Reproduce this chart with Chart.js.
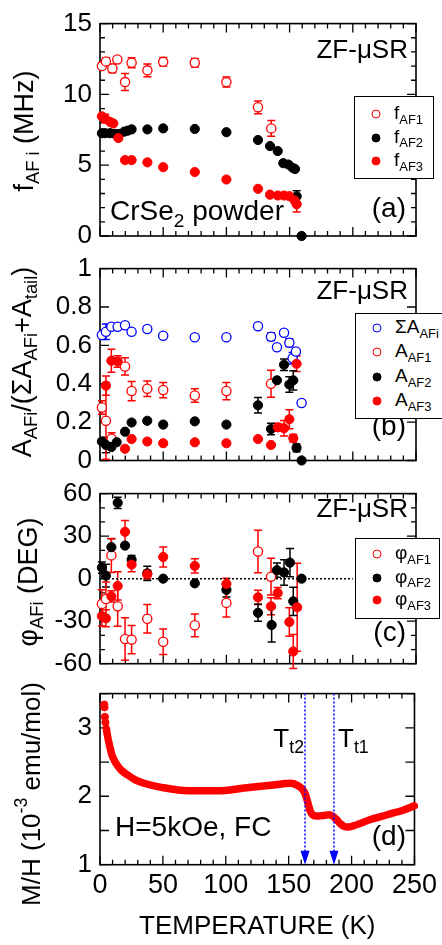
<!DOCTYPE html>
<html><head><meta charset="utf-8">
<script src="https://cdn.jsdelivr.net/npm/chart.js@4.4.1/dist/chart.umd.min.js"></script>
<style>
html,body{margin:0;padding:0;background:#fff;}
body{width:442px;height:945px;overflow:hidden;position:relative;font-family:"Liberation Sans",Arial,Helvetica,sans-serif;color:#000;}
canvas{position:absolute;left:0;}
.t{position:absolute;white-space:nowrap;line-height:0;}
.s{font-size:0.68em;position:relative;top:0.33em;}
.p{font-size:0.68em;position:relative;top:-0.75em;}
.yt{position:absolute;white-space:nowrap;line-height:1;transform:translate(-50%,-50%) rotate(-90deg);}
.lg{position:absolute;border:1.5px solid #000;background:#fff;box-sizing:border-box;}
.mk{position:absolute;width:9px;height:9px;border-radius:50%;box-sizing:border-box;transform:translate(-50%,-50%);}
</style></head><body>
<canvas id="ca" width="442" height="260" style="top:0px"></canvas>
<canvas id="cb" width="442" height="240" style="top:245px"></canvas>
<canvas id="cc" width="442" height="220" style="top:470px"></canvas>
<canvas id="cd" width="442" height="275" style="top:670px"></canvas>
<script>
// ================= DATA =================
const xTicks = [0, 50, 100, 150, 200, 250];
const yTicksA = [0, 5, 10, 15];
const yTicksB = [0, 0.2, 0.4, 0.6, 0.8, 1];
const yTicksC = [-60, -30, 0, 30, 60];
const yTicksD = [1, 2, 3];

// (a) muon precession frequencies (MHz)
const tF1 = [1.5, 4.7, 9.8, 13.7, 19.8, 25, 37.5, 50, 75, 100, 125, 135.5];
const fAF1 = [12.0, 12.33, 11.83, 12.47, 10.87, 12.24, 11.7, 12.3, 12.24, 10.87, 9.09, 7.6];
const fAF1Err = [0, 0.25, 0.3, 0, 0.6, 0.35, 0.45, 0.3, 0.3, 0.35, 0.45, 0.55];
const tF2 = [1.5, 4, 7.9, 11.9, 15, 19.2, 21.9, 25, 37.5, 50, 75, 100, 125, 134.5, 140.6, 145, 149, 152.4, 154.3, 155.6, 159.5];
const fAF2 = [7.26, 7.26, 7.26, 7.21, 7.21, 7.37, 7.44, 7.53, 7.53, 7.6, 7.56, 7.33, 6.78, 6.35, 6.0, 5.14, 5.05, 4.82, 4.73, 2.8, 0];
const fAF2Err = [0, 0, 0, 0, 0, 0, 0, 0, 0, 0, 0, 0, 0, 0, 0, 0, 0, 0, 0, 0.4, 0];
const tF3 = [1.5, 4, 7.9, 10.5, 14.5, 19.8, 25, 37.5, 50, 75, 100, 125, 134.5, 140.6, 145.6, 149.8, 154, 155.6];
const fAF3 = [8.45, 8.29, 8.06, 7.95, 6.92, 5.36, 5.36, 5.2, 4.86, 4.52, 3.99, 3.33, 2.92, 2.86, 2.86, 2.81, 2.5, 2.24];
const fAF3Err = [0, 0.3, 0, 0, 0.15, 0, 0, 0, 0, 0, 0, 0, 0, 0, 0, 0, 0, 0.55];

// (b) normalized asymmetries
const tSum = [1.5, 4.7, 9, 14, 19.8, 25, 37.4, 50, 75, 100, 125, 135.3, 140, 145.6, 149.8, 152.4, 155, 159.5];
const aSum = [0.654, 0.671, 0.697, 0.697, 0.705, 0.671, 0.685, 0.65, 0.642, 0.642, 0.70, 0.645, 0.59, 0.666, 0.614, 0.533, 0.568, 0.30];
const aSumErr = [0, 0.04, 0, 0, 0, 0, 0, 0, 0, 0, 0, 0.02, 0, 0.015, 0.02, 0.03, 0, 0];
const tA1 = [1.5, 4.7, 9.2, 19.8, 25, 37.4, 50, 75, 100, 135.3];
const aAF1 = [0.276, 0.207, 0.114, 0.49, 0.362, 0.374, 0.367, 0.339, 0.362, 0.40];
const aAF1Err = [0.035, 0.2, 0.03, 0.045, 0.05, 0.04, 0.04, 0.035, 0.045, 0.07];
const tA2 = [1.5, 4.7, 9, 13.2, 19.8, 25, 37.4, 50, 75, 100, 125, 135.3, 140, 145.6, 149.8, 152.9, 155.5, 159.5];
const aAF2 = [0.099, 0.081, 0.07, 0.095, 0.15, 0.198, 0.207, 0.187, 0.204, 0.187, 0.288, 0.164, 0.418, 0.499, 0.396, 0.418, 0.066, 0];
const aAF2Err = [0, 0.04, 0, 0, 0, 0, 0, 0, 0, 0, 0.04, 0.03, 0, 0.03, 0.04, 0.05, 0.02, 0];
const tA3 = [4.7, 9, 14, 19.8, 25, 37.4, 50, 75, 100, 125, 135.3, 140.6, 145.6, 149.8, 152.9, 155.5];
const aAF3 = [0.39, 0.52, 0.516, 0.061, 0.112, 0.099, 0.09, 0.095, 0.09, 0.112, 0.081, 0.173, 0.168, 0.215, 0.116, 0.504];
const aAF3Err = [0.05, 0.06, 0.03, 0, 0, 0, 0, 0, 0, 0, 0, 0.02, 0.04, 0.05, 0.02, 0.04];

// (c) phases (deg)
const tP1 = [1.5, 4.7, 9, 14, 19.8, 25, 37.4, 50, 75, 100, 125, 135.3];
const phAF1 = [-17.8, -14.4, 16.4, -19.5, -42.6, -43, -28.3, -44.5, -32.9, -17.1, 19.2, 1.4];
const phAF1Err = [10, 12, 12, 14, 15, 10, 10, 9, 8, 10, 15, 13];
const tP2 = [1.5, 4.7, 9, 14, 19.8, 25, 37.4, 50, 75, 100, 125, 135.8, 140, 145.6, 150.3, 152.9, 159.5];
const phAF2 = [7.8, 2.1, 22.2, 53.5, 23.3, 13.4, 3.7, 0, -3.3, -7.9, -24.1, -32.7, 6, 4.4, 11.3, -16, 0];
const phAF2Err = [4, 8, 6, 4, 0, 3, 5, 0, 0, 5, 6, 12, 5, 9, 10, 10, 0];
const tP3 = [1.5, 4.7, 9, 14, 19.8, 25, 37.4, 50, 75, 100, 125, 135.3, 140.6, 149.8, 152.9, 156];
const phAF3 = [-26.4, -28, -12.5, -5.1, 33, 9.9, 3, 15.3, 9, -3.7, -13.2, -19.5, -10.2, -30.6, -51.4, -20.2];
const phAF3Err = [7, 6, 4, 10, 8, 5, 3, 7, 5, 4, 5, 6, 4, 10, 12, 31];
const zeroLineT = [0, 200];
const zeroLineV = [0, 0];

// (d) magnetic susceptibility M/H (1e-3 emu/mol)
const mhDotT = [3.4, 3.6, 3.9, 4.3];
const mhDot = [3.34, 3.30, 3.16, 3.08];
const mhT = [5, 5.8, 6.9, 8, 9.5, 11.5, 13.5, 17, 22, 28, 35, 48.8, 70, 93.6, 114.7, 135.8, 151.6, 157, 160, 163, 165, 167, 169, 172, 178, 182, 185, 188, 191, 194, 197, 201.8, 215, 228.2, 241.4, 249.9];
const mh = [2.99, 2.90, 2.80, 2.71, 2.60, 2.52, 2.46, 2.38, 2.31, 2.24, 2.19, 2.13, 2.08, 2.08, 2.12, 2.16, 2.19, 2.16, 2.12, 2.04, 1.92, 1.79, 1.73, 1.71, 1.72, 1.73, 1.71, 1.66, 1.60, 1.56, 1.55, 1.57, 1.66, 1.73, 1.80, 1.86];
const transitionT = [163, 186];
const transitionNames = ['T<span class="s">t2</span>', 'T<span class="s">t1</span>'];

// legend / series labels
const legA = ['f<span class="s">AF1</span>', 'f<span class="s">AF2</span>', 'f<span class="s">AF3</span>'];
const legB = ['ΣA<span class="s">AFi</span>', 'A<span class="s">AF1</span>', 'A<span class="s">AF2</span>', 'A<span class="s">AF3</span>'];
const legC = ['φ<span class="s">AF1</span>', 'φ<span class="s">AF2</span>', 'φ<span class="s">AF3</span>'];

// ================= RENDERING =================
const RED = '#ff0000', BLK = '#000000', BLU = '#0000ff';
Chart.defaults.font.family = '"Liberation Sans", Arial, sans-serif';
Chart.defaults.color = '#000';

const decor = {
  id: 'decor',
  beforeDatasetsDraw(chart, args, o) {
    const {ctx, chartArea: a} = chart;
    const xs = chart.scales.x, ys = chart.scales.y;
    ctx.save();
    ctx.strokeStyle = '#000'; ctx.lineWidth = 1.6;
    ctx.strokeRect(a.left, a.top, a.right - a.left, a.bottom - a.top);
    ctx.lineWidth = 1.3;
    const tick = (scale, minor, major, horiz) => {
      const n0 = Math.ceil(scale.min / minor - 1e-6), n1 = Math.floor(scale.max / minor + 1e-6);
      for (let n = n0; n <= n1; n++) {
        const v = n * minor, r = v / major;
        const L = Math.abs(r - Math.round(r)) < 1e-6 ? 9 : 5;
        const p = scale.getPixelForValue(v);
        ctx.beginPath();
        if (horiz) { ctx.moveTo(p, a.bottom); ctx.lineTo(p, a.bottom - L); ctx.moveTo(p, a.top); ctx.lineTo(p, a.top + L); }
        else { ctx.moveTo(a.left, p); ctx.lineTo(a.left + L, p); ctx.moveTo(a.right, p); ctx.lineTo(a.right - L, p); }
        ctx.stroke();
      }
    };
    tick(xs, o.xMinor, o.xMajor, true);
    tick(ys, o.yMinor, o.yMajor, false);
    chart.data.datasets.forEach(ds => {
      if (!ds.err) return;
      ctx.strokeStyle = ds.pointBorderColor; ctx.lineWidth = 1.5;
      ds.data.forEach((pt, j) => {
        const e = ds.err[j]; if (!e) return;
        const x = xs.getPixelForValue(pt.x), y1 = ys.getPixelForValue(pt.y - e), y2 = ys.getPixelForValue(pt.y + e);
        ctx.beginPath();
        ctx.moveTo(x, y1); ctx.lineTo(x, y2);
        ctx.moveTo(x - 4, y1); ctx.lineTo(x + 4, y1);
        ctx.moveTo(x - 4, y2); ctx.lineTo(x + 4, y2);
        ctx.stroke();
      });
    });
    ctx.restore();
  },
  afterDatasetsDraw(chart, args, o) {
    if (!o.marks) return;
    const {ctx, chartArea: a} = chart;
    const xs = chart.scales.x;
    ctx.save();
    o.marks.forEach(t => {
      const x = xs.getPixelForValue(t);
      ctx.strokeStyle = BLU; ctx.lineWidth = 1.5; ctx.setLineDash([2, 2]);
      ctx.beginPath(); ctx.moveTo(x, a.top); ctx.lineTo(x, a.bottom - 12); ctx.stroke();
      ctx.setLineDash([]);
      ctx.fillStyle = BLU;
      ctx.beginPath(); ctx.moveTo(x - 4.5, a.bottom - 14); ctx.lineTo(x + 4.5, a.bottom - 14); ctx.lineTo(x, a.bottom); ctx.closePath(); ctx.fill();
    });
    ctx.restore();
  }
};
Chart.register(decor);

const pts = (t, v) => t.map((x, i) => ({x, y: v[i]}));
function sym(t, v, err, color, open) {
  return {
    data: pts(t, v), err,
    pointRadius: 4.6, pointHoverRadius: 4.6,
    pointBackgroundColor: open ? '#ffffff' : color,
    pointBorderColor: color,
    pointBorderWidth: open ? 1.3 : 1,
    showLine: false, clip: false
  };
}

function scales(ymin, ymax, yticks, hb, withX) {
  return {
    x: {
      type: 'linear', min: 0, max: 250,
      grid: {display: false, drawTicks: false}, border: {display: false},
      ticks: withX ? {font: {size: 27}, padding: 5, color: '#000', maxRotation: 0, autoSkip: false, callback: v => String(v)} : {display: false},
      afterBuildTicks: s => { s.ticks = xTicks.map(v => ({value: v})); },
      title: withX ? {display: true, text: 'TEMPERATURE (K)', font: {size: 26}, padding: {top: 0, bottom: 3}, color: '#000'} : {display: false},
      afterFit: s => { s.height = hb; }
    },
    y: {
      type: 'linear', min: ymin, max: ymax,
      grid: {display: false, drawTicks: false}, border: {display: false},
      ticks: {font: {size: 26}, padding: 8, color: '#000', callback: v => String(v)},
      afterBuildTicks: s => { s.ticks = yticks.map(v => ({value: v})); },
      afterFit: s => { s.width = 100; }
    }
  };
}
function opts(pt, sc, dec) {
  return {
    responsive: false, animation: false, events: [],
    layout: {padding: {top: pt, right: 26, bottom: 0, left: 0}},
    plugins: {legend: {display: false}, tooltip: {enabled: false}, decor: dec},
    scales: sc
  };
}

// (a)
new Chart(document.getElementById('ca'), {
  type: 'scatter',
  data: {datasets: [
    sym(tF3, fAF3, fAF3Err, RED, false),
    sym(tF2, fAF2, fAF2Err, BLK, false),
    sym(tF1, fAF1, fAF1Err, RED, true)
  ]},
  options: opts(17, scales(0, 15, yTicksA, 24, false), {xMinor: 10, xMajor: 50, yMinor: 1, yMajor: 5})
});
// (b)
new Chart(document.getElementById('cb'), {
  type: 'scatter',
  data: {datasets: [
    sym(tA3, aAF3, aAF3Err, RED, false),
    sym(tA2, aAF2, aAF2Err, BLK, false),
    sym(tA1, aAF1, aAF1Err, RED, true),
    sym(tSum, aSum, aSumErr, BLU, true)
  ]},
  options: opts(21.5, scales(0, 1, yTicksB, 24.5, false), {xMinor: 10, xMajor: 50, yMinor: 0.2, yMajor: 0.2})
});
// (c)
new Chart(document.getElementById('cc'), {
  type: 'scatter',
  data: {datasets: [
    sym(tP3, phAF3, phAF3Err, RED, false),
    sym(tP2, phAF2, phAF2Err, BLK, false),
    sym(tP1, phAF1, phAF1Err, RED, true),
    {data: pts(zeroLineT, zeroLineV), showLine: true, borderColor: '#000', borderWidth: 1.5, borderDash: [2, 2], pointRadius: 0, clip: false}
  ]},
  options: opts(21, scales(-60, 60, yTicksC, 26.3, false), {xMinor: 10, xMajor: 50, yMinor: 10, yMajor: 30})
});
// (d)
new Chart(document.getElementById('cd'), {
  type: 'scatter',
  data: {datasets: [
    {data: pts(mhDotT, mhDot), pointRadius: 3.6, pointBackgroundColor: RED, pointBorderColor: RED, showLine: false, clip: false},
    {data: pts(mhT, mh), showLine: true, borderColor: RED, borderWidth: 7.5, cubicInterpolationMode: 'monotone',
     borderCapStyle: 'round', borderJoinStyle: 'round', pointRadius: 0, clip: false}
  ]},
  options: opts(23, scales(1, 3.5, yTicksD, 80.3, true), {xMinor: 10, xMajor: 50, yMinor: 0.5, yMajor: 0.5, marks: transitionT})
});

// ================= HTML TEXT =================
function addText(html, x, base, size, align) {
  const d = document.createElement('div');
  d.className = 't'; d.innerHTML = html; d.style.fontSize = size + 'px';
  d.style.top = (base - 0.3465 * size) + 'px';
  if (align === 'right') d.style.right = (442 - x) + 'px'; else d.style.left = x + 'px';
  document.body.appendChild(d);
}
function addYTitle(html, cx, cy, size) {
  const d = document.createElement('div');
  d.className = 'yt'; d.innerHTML = html; d.style.fontSize = size + 'px';
  d.style.left = cx + 'px'; d.style.top = cy + 'px';
  document.body.appendChild(d);
}
function addLegend(left, top, w, h, labels, styles, rowY) {
  const b = document.createElement('div');
  b.className = 'lg';
  b.style.left = left + 'px'; b.style.top = top + 'px'; b.style.width = w + 'px'; b.style.height = h + 'px';
  document.body.appendChild(b);
  labels.forEach((lab, i) => {
    const m = document.createElement('div');
    m.className = 'mk';
    const st = styles[i];
    m.style.left = (left + 22) + 'px'; m.style.top = rowY[i] + 'px';
    m.style.background = st.open ? '#fff' : st.c;
    m.style.border = (st.open ? 1.3 : 1) + 'px solid ' + st.c;
    document.body.appendChild(m);
    addText(lab, left + 40, rowY[i] + 6, 19, 'left');
  });
}

addYTitle('f<span class="s">AF i</span> (MHz)', 24, 131, 27);
addYTitle('A<span class="s">AFi</span>/(ΣA<span class="s">AFi</span>+A<span class="s">tail</span>)', 22, 362, 27);
addYTitle('φ<span class="s">AFi</span> (DEG)', 28, 582, 27);
addYTitle('M/H (10<span class="p">-3</span> emu/mol)', 31, 794, 26);

addText('ZF-μSR', 408, 58.5, 26, 'right');
addText('(a)', 406, 217.5, 28, 'right');
addText('CrSe<span class="s">2</span> powder', 110, 221, 28, 'left');
addText('ZF-μSR', 408, 299.5, 26, 'right');
addText('(b)', 406, 436, 28, 'right');
addText('ZF-μSR', 408, 517, 26, 'right');
addText('(c)', 406, 641.5, 28, 'right');
addText('(d)', 406, 846, 28, 'right');
addText('H=5kOe, FC', 115, 836.7, 28, 'left');
addText(transitionNames[0], 304, 746.7, 26, 'right');
addText(transitionNames[1], 338, 746.7, 26, 'left');

addLegend(354, 96, 80, 83, legA, [{c: RED, open: true}, {c: BLK}, {c: RED}], [114, 137.5, 161]);
addLegend(355, 313, 110, 106, legB, [{c: BLU, open: true}, {c: RED, open: true}, {c: BLK}, {c: RED}], [328, 352, 377, 401]);
addLegend(355, 538, 85, 81, legC, [{c: RED, open: true}, {c: BLK}, {c: RED}], [554, 577.5, 600]);
</script>
</body></html>
